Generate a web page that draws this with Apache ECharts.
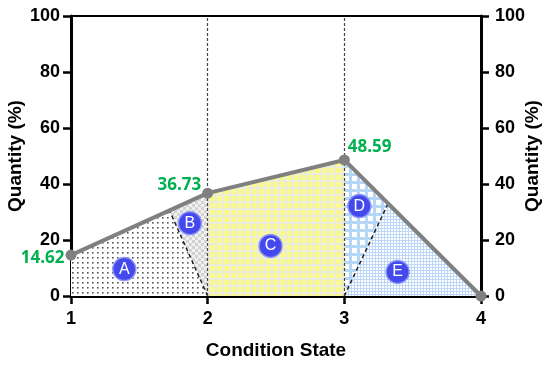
<!DOCTYPE html>
<html>
<head>
<meta charset="utf-8">
<script src="https://cdn.jsdelivr.net/npm/echarts@6/dist/echarts.min.js"></script>
<style>
  html, body { margin: 0; padding: 0; background: #fff; }
  #chart { width: 550px; height: 372px; }
</style>
</head>
<body>
<div id="chart"></div>
<script>
// condition states and the quantity curve
const states = [1, 2, 3, 4];
const quantity = [14.62, 36.73, 48.59, 0];
const yTicks = [0, 20, 40, 60, 80, 100];

// where the dashed dividers meet the curve
const splitAB = [1.72, 30.6];
const splitDE = [3.32, 33.0];

// shaded regions, vertices in data units
const regionA = [[1, 0], [1, 14.62], splitAB, [2, 0]];
const regionB = [[2, 0], splitAB, [2, 36.73]];
const regionC = [[2, 0], [2, 36.73], [3, 48.59], [3, 0]];
const regionD = [[3, 0], [3, 48.59], splitDE];
const regionE = [[3, 0], splitDE, [4, 0]];

// badge letters and their centres
const badgeNames = ['A', 'B', 'C', 'D', 'E'];
const badgePos = [[1.39, 9.6], [1.87, 26.0], [2.46, 17.9], [3.11, 32.1], [3.39, 8.6]];

// small tiles used as fill patterns
function tile(w, h, draw) {
  const c = document.createElement('canvas');
  c.width = w; c.height = h;
  draw(c.getContext('2d'));
  return { image: c, repeat: 'repeat' };
}
const patA = tile(5, 5, g => {
  g.fillStyle = '#ffffff'; g.fillRect(0, 0, 5, 5);
  g.fillStyle = '#555555'; g.fillRect(2, 2, 1.6, 1.6);
});
const patB = tile(6, 6, g => {
  g.fillStyle = '#f1f1f1'; g.fillRect(0, 0, 6, 6);
  g.fillStyle = '#d2d2d2'; g.fillRect(0, 0, 3, 3); g.fillRect(3, 3, 3, 3);
});
const patC = tile(7, 7, g => {
  g.fillStyle = '#ececdc'; g.fillRect(0, 0, 7, 7);
  g.fillStyle = '#fafa8c'; g.fillRect(0, 0, 5, 5);
});
const patD = tile(8, 8, g => {
  g.fillStyle = '#b6d6f6'; g.fillRect(0, 0, 8, 8);
  g.fillStyle = '#ffffff'; g.fillRect(0, 0, 5, 5);
});
const patE = tile(3, 3, g => {
  g.fillStyle = '#ffffff'; g.fillRect(0, 0, 3, 3);
  g.fillStyle = '#bcd8f6'; g.fillRect(0, 0, 3, 1); g.fillRect(0, 0, 1, 3);
});

const regions = [regionA, regionB, regionC, regionD, regionE];
const fills = [patA, patB, patC, patD, patE];

const chart = echarts.init(document.getElementById('chart'));

const axisFont = { color: '#000', fontWeight: 'bold', fontSize: 18, fontFamily: 'Liberation Sans, Arial' };
const nameFont = { color: '#000', fontWeight: 'bold', fontSize: 19, fontFamily: 'Liberation Sans, Arial' };

// per-point label placement for the curve values
const valueLabels = [
  { position: [-1, 9], align: 'right' },
  { position: [-1, -2], align: 'right' },
  { position: [9, -7], align: 'left' },
  null
];

const option = {
  animation: false,
  grid: {
    left: 71, right: 69, top: 16, bottom: 76,
    containLabel: false, outerBoundsMode: 'none',
    show: true, borderColor: '#000', borderWidth: 2, backgroundColor: 'transparent'
  },
  xAxis: {
    type: 'value', min: 1, max: 4, interval: 1,
    name: 'Condition State', nameLocation: 'middle', nameGap: 45, nameTextStyle: nameFont,
    nameMoveOverlap: false,
    axisLine: { show: true, onZero: false, lineStyle: { color: '#000', width: 3 } },
    axisTick: { show: true, length: 8, lineStyle: { color: '#000', width: 2.5 } },
    axisLabel: Object.assign({ margin: 14 }, axisFont),
    splitLine: { show: false }
  },
  yAxis: [0, 1].map(i => ({
    type: 'value', min: 0, max: 100, interval: 20,
    position: i ? 'right' : 'left',
    name: 'Quantity (%)', nameLocation: 'middle', nameRotate: 90,
    nameGap: i ? 42 : 46, nameTextStyle: nameFont, nameMoveOverlap: false,
    axisLine: { show: true, lineStyle: { color: '#000', width: 3 } },
    axisTick: { show: true, length: 8, lineStyle: { color: '#000', width: 2.5 } },
    axisLabel: Object.assign({ margin: i ? 14 : 11, customValues: yTicks }, axisFont),
    splitLine: { show: false }
  })),
  series: [
    {
      // patterned regions
      type: 'custom',
      z: 1,
      clip: false,
      data: regions.map((r, i) => [i]),
      encode: { x: -1, y: -1 },
      renderItem: (params, api) => ({
        type: 'polygon',
        shape: { points: regions[params.dataIndex].map(p => api.coord(p)) },
        style: { fill: fills[params.dataIndex], stroke: null }
      })
    },
    {
      // dashed dividers inside the first and last segments
      type: 'line', z: 3, symbol: 'none', silent: true,
      data: [[2, 0], splitAB],
      lineStyle: { color: '#222', width: 1.5, type: [4, 3] }
    },
    {
      type: 'line', z: 3, symbol: 'none', silent: true,
      data: [[3, 0], splitDE],
      lineStyle: { color: '#222', width: 1.5, type: [4, 3] },
      markLine: {
        silent: true, symbol: 'none', label: { show: false },
        lineStyle: { color: '#444', width: 1.2, type: [3, 2] },
        data: [{ xAxis: 2 }, { xAxis: 3 }]
      }
    },
    {
      // the quantity curve
      type: 'line', z: 5,
      data: states.map((s, i) => {
        const d = { value: [s, quantity[i]] };
        if (valueLabels[i]) {
          d.label = {
            show: true, position: valueLabels[i].position, align: valueLabels[i].align,
            verticalAlign: 'middle', formatter: quantity[i].toFixed(2),
            color: '#00b050', fontWeight: 'bold', fontSize: 17, fontFamily: 'Open Sans'
          };
        }
        return d;
      }),
      symbol: 'circle', symbolSize: 11,
      itemStyle: { color: '#808080' },
      lineStyle: { color: '#808080', width: 4 },
      label: { show: false }
    },
    {
      // lettered badges
      type: 'scatter', z: 6,
      data: badgePos.map((p, i) => ({ value: p, name: badgeNames[i] })),
      symbol: 'circle', symbolSize: 23,
      itemStyle: { color: '#4449ee', borderColor: '#8f95f6', borderWidth: 1.5, opacity: 1 },
      label: {
        show: true, position: 'inside', formatter: '{b}',
        color: '#fff', fontSize: 16, fontFamily: 'Liberation Sans, Arial'
      }
    }
  ]
};

chart.setOption(option);
</script>
</body>
</html>
